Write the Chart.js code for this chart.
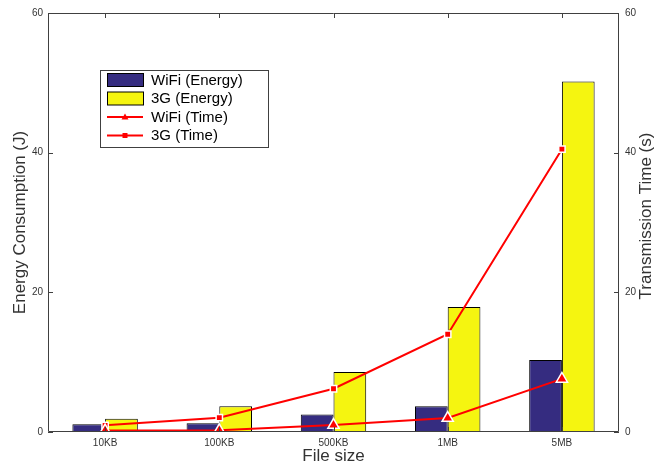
<!DOCTYPE html>
<html>
<head>
<meta charset="utf-8">
<script src="https://cdn.jsdelivr.net/npm/chart.js@4/dist/chart.umd.min.js"></script>
<style>
  html, body { margin: 0; padding: 0; background: #fff; }
  #wrap { width: 662px; height: 465px; }
</style>
</head>
<body>
<div id="wrap"><canvas id="c" width="662" height="465"></canvas></div>
<script>
// Energy (J) and transmission time (s) per file size, WiFi vs 3G
const fileSizes  = ['10KB', '100KB', '500KB', '1MB', '5MB'];
const wifiEnergy = [1.1, 1.25, 2.5, 3.7, 10.3];
const g3Energy   = [1.9, 3.7, 8.6, 17.9, 50.2];
const wifiTime   = [0.2, 0.25, 1.0, 2.0, 7.6];
const g3Time     = [0.95, 2.05, 6.2, 14.0, 40.5];
const axisTicks  = [0, 20, 40, 60];

const FONT = 'Liberation Sans, Arial, Helvetica, sans-serif';
const TEXT = '#333333';
const AXIS = '#404040';
const NAVY = '#352c80';
const YELLOW = '#f5f510';
const RED = '#ff0000';

// Boxed axes with inward ticks on all four sides
const framePlugin = {
  id: 'frame',
  afterDatasetsDraw(chart) {
    const { ctx, chartArea: a, scales } = chart;
    const len = 5;
    ctx.save();
    ctx.strokeStyle = AXIS;
    ctx.lineWidth = 1;
    ctx.beginPath();
    ctx.rect(a.left + 0.5, a.top + 0.5, a.right - a.left - 1, a.bottom - a.top - 1);
    ctx.stroke();
    ctx.beginPath();
    fileSizes.forEach((_, i) => {
      const x = Math.round(scales.x.getPixelForValue(i)) + 0.5;
      ctx.moveTo(x, a.top); ctx.lineTo(x, a.top + len);
      ctx.moveTo(x, a.bottom); ctx.lineTo(x, a.bottom - len);
    });
    axisTicks.forEach(v => {
      const y1 = Math.round(scales.y.getPixelForValue(v)) + 0.5;
      ctx.moveTo(a.left, y1); ctx.lineTo(a.left + len, y1);
      const y2 = Math.round(scales.y2.getPixelForValue(v)) + 0.5;
      ctx.moveTo(a.right, y2); ctx.lineTo(a.right - len, y2);
    });
    ctx.stroke();

    // right-hand axis title, reading bottom to top
    ctx.save();
    ctx.translate(646, 216);
    ctx.rotate(-Math.PI / 2);
    ctx.font = '17px ' + FONT;
    ctx.fillStyle = TEXT;
    ctx.textAlign = 'center';
    ctx.textBaseline = 'middle';
    ctx.fillText('Transmission Time (s)', 0, 0);
    ctx.restore();
    ctx.restore();
  }
};

// Boxed legend in the upper-left of the plot
const legendBox = {
  id: 'legendBox',
  afterDraw(chart) {
    const { ctx } = chart;
    const x0 = 100.5, y0 = 70.5, w = 168, h = 77;
    ctx.save();
    ctx.fillStyle = '#fff';
    ctx.fillRect(x0, y0, w, h);
    ctx.strokeStyle = AXIS;
    ctx.lineWidth = 1;
    ctx.strokeRect(x0, y0, w, h);
    const rowY = [80, 98.5, 117, 135.5];
    ctx.font = '15px ' + FONT;
    ctx.textBaseline = 'middle';
    ctx.textAlign = 'left';
    chart.data.datasets.forEach((d, i) => {
      const cy = rowY[i];
      if (d.type === 'bar') {
        ctx.fillStyle = d.backgroundColor;
        ctx.fillRect(107.5, cy - 6.5, 36, 13);
        ctx.strokeStyle = '#000';
        ctx.lineWidth = 1;
        ctx.strokeRect(107.5, cy - 6.5, 36, 13);
      } else {
        ctx.strokeStyle = RED;
        ctx.lineWidth = 2;
        ctx.beginPath();
        ctx.moveTo(107, cy); ctx.lineTo(143, cy);
        ctx.stroke();
        ctx.fillStyle = RED;
        ctx.beginPath();
        if (d.pointStyle === 'triangle') {
          ctx.moveTo(125, cy - 3.5); ctx.lineTo(128.5, cy + 2.5); ctx.lineTo(121.5, cy + 2.5);
        } else {
          ctx.rect(122.5, cy - 2.5, 5, 5);
        }
        ctx.closePath();
        ctx.fill();
      }
      ctx.fillStyle = '#000';
      ctx.fillText(d.label, 151, cy + 0.5);
    });
    ctx.restore();
  }
};

const tickFont = { family: FONT, size: 10 };
const titleFont = { family: FONT, size: 17 };

new Chart(document.getElementById('c'), {
  data: {
    labels: fileSizes,
    datasets: [
      { type: 'bar', label: 'WiFi (Energy)', data: wifiEnergy, yAxisID: 'y',
        backgroundColor: NAVY, borderColor: '#000', borderWidth: 1, order: 2 },
      { type: 'bar', label: '3G (Energy)', data: g3Energy, yAxisID: 'y',
        backgroundColor: YELLOW, borderColor: '#000', borderWidth: 1, order: 2 },
      { type: 'line', label: 'WiFi (Time)', data: wifiTime, yAxisID: 'y2',
        borderColor: RED, borderWidth: 2, pointStyle: 'triangle', pointRadius: 6.5,
        pointBackgroundColor: RED, pointBorderColor: '#fff', pointBorderWidth: 1.5, order: 1 },
      { type: 'line', label: '3G (Time)', data: g3Time, yAxisID: 'y2',
        borderColor: RED, borderWidth: 2, pointStyle: 'rect', pointRadius: 4.5,
        pointBackgroundColor: RED, pointBorderColor: '#fff', pointBorderWidth: 1.5, order: 1 }
    ]
  },
  options: {
    responsive: false,
    animation: false,
    devicePixelRatio: 1,
    layout: { padding: { top: 13, left: 0, right: 0, bottom: 0 } },
    datasets: { bar: { barPercentage: 1.0, categoryPercentage: 0.573 } },
    plugins: { legend: { display: false }, tooltip: { enabled: false } },
    scales: {
      x: {
        type: 'category', offset: true,
        grid: { display: false, drawTicks: false }, border: { display: false },
        ticks: { font: tickFont, color: TEXT, padding: 5, maxRotation: 0 },
        title: { display: true, text: 'File size', font: titleFont, color: TEXT,
                 padding: { top: 0, bottom: -2 } },
        afterFit(s) { s.height = 33; }
      },
      y: {
        position: 'left', min: 0, max: 60,
        grid: { display: false, drawTicks: false }, border: { display: false },
        afterBuildTicks(s) { s.ticks = axisTicks.map(v => ({ value: v })); },
        ticks: { font: tickFont, color: TEXT, padding: 5 },
        title: { display: true, text: 'Energy Consumption (J)', font: titleFont, color: TEXT,
                 padding: { top: 10, bottom: 0 } },
        afterFit(s) { s.width = 48; }
      },
      y2: {
        position: 'right', min: 0, max: 60,
        grid: { display: false, drawTicks: false }, border: { display: false },
        afterBuildTicks(s) { s.ticks = axisTicks.map(v => ({ value: v })); },
        ticks: { font: tickFont, color: TEXT, padding: 6 },
        title: { display: false },
        afterFit(s) { s.width = 43; }
      }
    }
  },
  plugins: [framePlugin, legendBox]
});
</script>
</body>
</html>
